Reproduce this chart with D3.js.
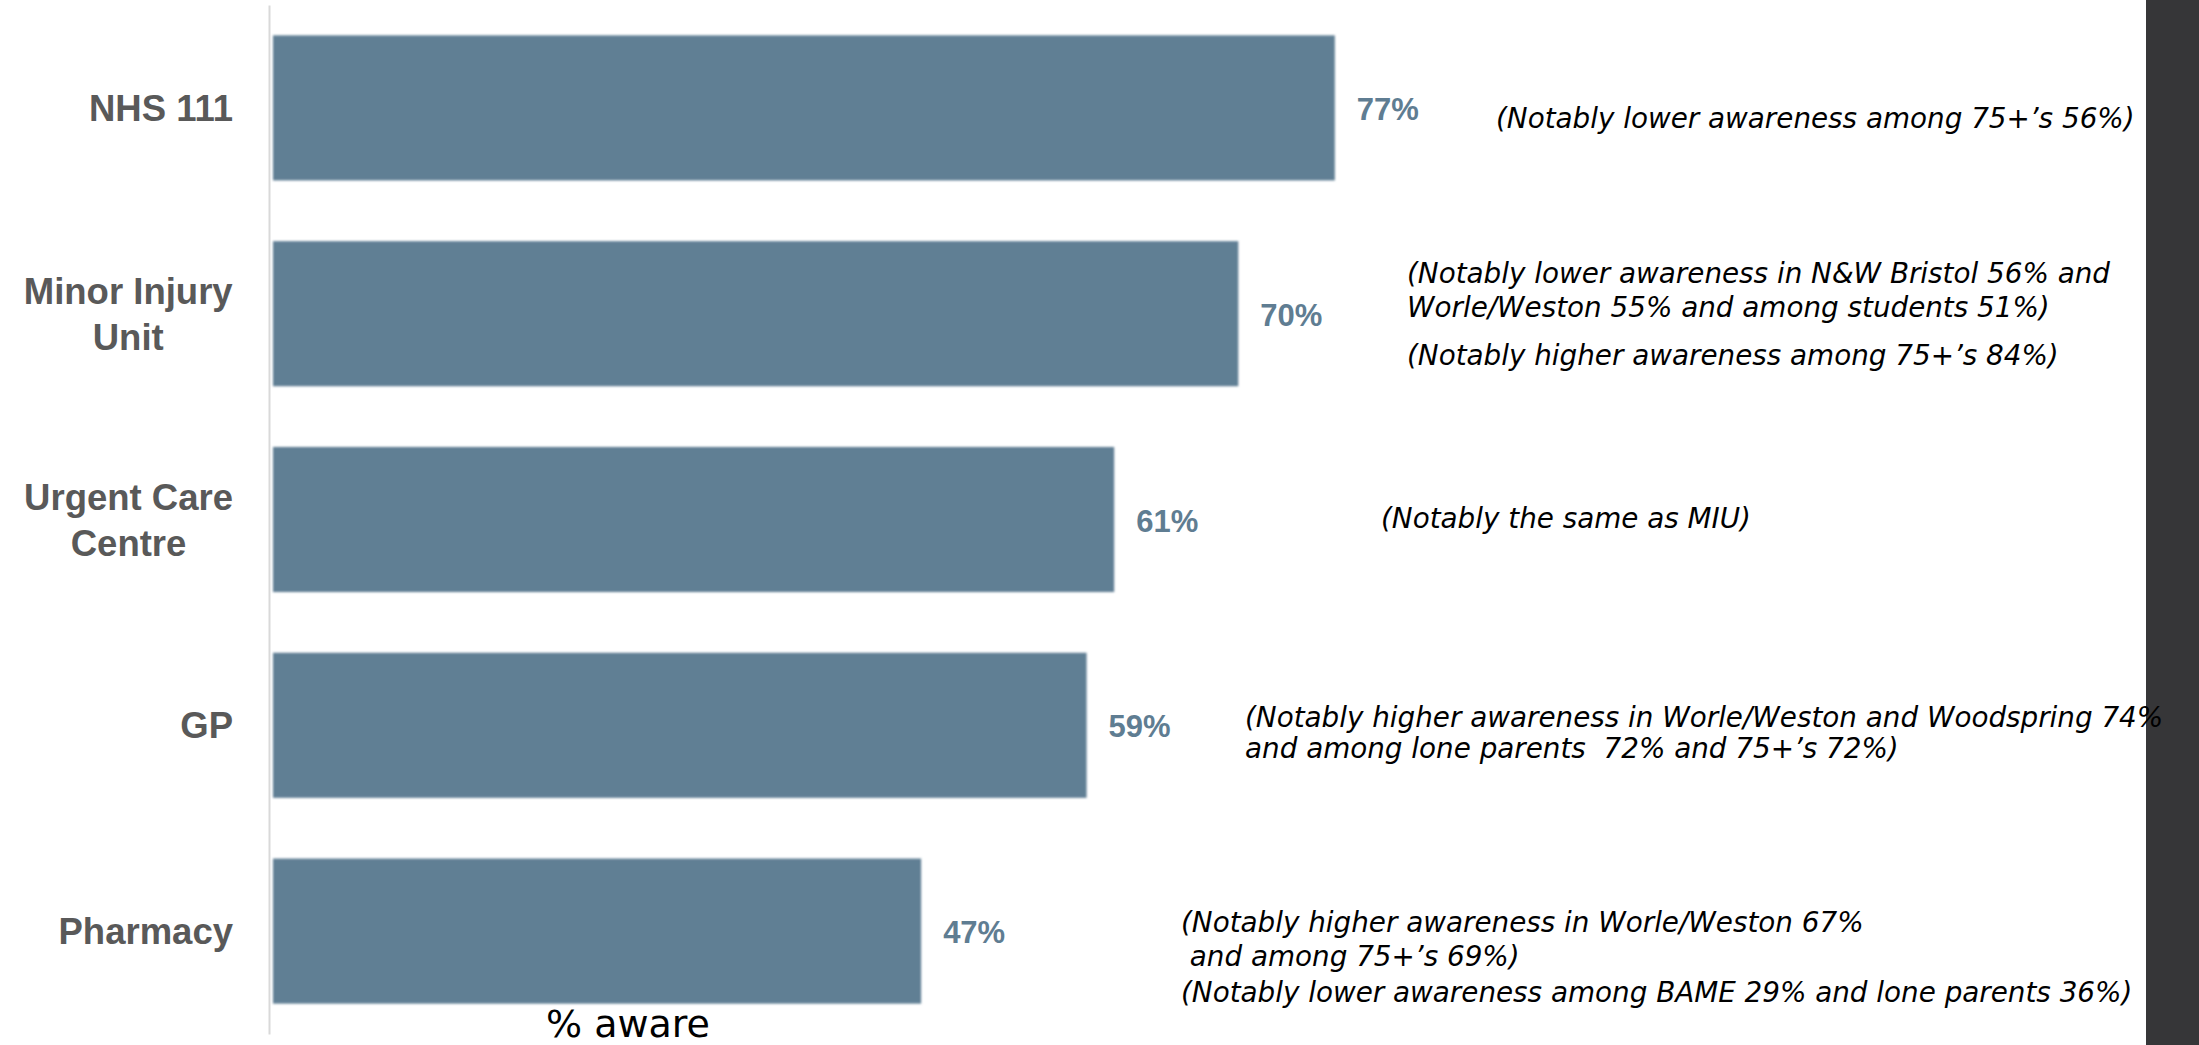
<!DOCTYPE html>
<html>
<head>
<meta charset="utf-8">
<script src="https://cdn.jsdelivr.net/npm/d3@7"></script>
<style>
  html, body { margin: 0; padding: 0; background: #ffffff; }
  svg { display: block; }
</style>
</head>
<body>
<div id="chart"></div>
<script>
// ---- data ----
const categories = ["NHS 111", "Minor Injury Unit", "Urgent Care Centre", "GP", "Pharmacy"];
const categoryLines = [["NHS 111"], ["Minor Injury", "Unit"], ["Urgent Care", "Centre"], ["GP"], ["Pharmacy"]];
const values = [77, 70, 61, 59, 47];
const notes = [
  ["(Notably lower awareness among 75+\u2019s 56%)"],
  ["(Notably lower awareness in N&W Bristol 56% and", "Worle/Weston 55% and among students 51%)", "(Notably higher awareness among 75+\u2019s 84%)"],
  ["(Notably the same as MIU)"],
  ["(Notably higher awareness in Worle/Weston and Woodspring 74%", "and among lone parents  72% and 75+\u2019s 72%)"],
  ["(Notably higher awareness in Worle/Weston 67%", " and among 75+\u2019s 69%)", "(Notably lower awareness among BAME 29% and lone parents 36%)"]
];
const axisTitle = "% aware";

// ---- layout ----
const W = 2199, H = 1045;
const noteLayout = [
  { x: 1496, ys: [128] },
  { x: 1407, ys: [283, 317, 365] },
  { x: 1381, ys: [528] },
  { x: 1245, ys: [727, 758] },
  { x: 1181, ys: [932, 966, 1002] }
];

const svg = d3.select("#chart").append("svg")
  .attr("width", W).attr("height", H)
  .attr("viewBox", `0 0 ${W} ${H}`);

svg.append("rect").attr("width", W).attr("height", H).attr("fill", "#ffffff");

const defs = svg.append("defs");
defs.append("filter").attr("id", "soft")
  .attr("x", "-2%").attr("y", "-5%").attr("width", "104%").attr("height", "110%")
  .append("feGaussianBlur").attr("stdDeviation", 0.9);

const x = d3.scaleLinear().domain([0, 100]).range([273, 273 + 1379]);
const y = d3.scaleBand().domain(categories).range([5, 1034])
  .paddingInner(0.295).paddingOuter(0.1475);

const data = categories.map((c, i) => ({ c, v: values[i], lines: categoryLines[i], notes: notes[i], lay: noteLayout[i] }));

// right dark sidebar
svg.append("rect").attr("x", 2146).attr("y", 0).attr("width", W - 2146).attr("height", H).attr("fill", "#363638");

// axis line
const yAxis = svg.append("g").attr("transform", "translate(269,0)")
  .call(d3.axisLeft(y).tickSize(0).tickFormat(""));
yAxis.select(".domain").attr("stroke", "#d9d9d9").attr("stroke-width", 2);

// bars
svg.append("g").selectAll("rect").data(data).join("rect")
  .attr("x", x(0))
  .attr("y", d => y(d.c))
  .attr("width", d => x(d.v) - x(0))
  .attr("height", y.bandwidth())
  .attr("fill", "#607f94")
  .attr("filter", "url(#soft)");

// value labels
svg.append("g").selectAll("text").data(data).join("text")
  .attr("x", d => x(d.v) + 22)
  .attr("y", d => y(d.c) + y.bandwidth() / 2 + 1)
  .attr("dy", "0.36em")
  .attr("font-family", "'Liberation Sans', Arial, sans-serif")
  .attr("font-weight", "bold")
  .attr("font-size", 31)
  .attr("fill", "#5f7d92")
  .text(d => d.v + "%");

// category labels
const catG = svg.append("g");
data.forEach(d => {
  const cy = y(d.c) + y.bandwidth() / 2;
  const n = d.lines.length;
  const t = catG.append("text")
    .attr("font-family", "'Liberation Sans', Arial, sans-serif")
    .attr("font-weight", "bold")
    .attr("font-size", 36.5)
    .attr("fill", "#595959");
  if (n === 1) {
    t.attr("text-anchor", "end").attr("x", 233).attr("y", cy).attr("dy", "0.36em").text(d.lines[0]);
  } else {
    t.attr("text-anchor", "middle");
    d.lines.forEach((ln, j) => {
      t.append("tspan").attr("x", 0).attr("y", cy + (j - (n - 1) / 2) * 46).attr("dy", "0.36em").text(ln);
    });
    const w = t.node().getBBox().width;
    t.selectAll("tspan").attr("x", 233 - w / 2);
  }
});

// annotations
const noteG = svg.append("g");
data.forEach(d => {
  d.notes.forEach((ln, j) => {
    noteG.append("text")
      .attr("x", d.lay.x)
      .attr("y", d.lay.ys[j])
      .attr("font-family", "'DejaVu Sans', sans-serif")
      .attr("font-style", "italic")
      .attr("font-size", 27.8)
      .attr("fill", "#000000")
      .attr("xml:space", "preserve")
      .style("white-space", "pre")
      .text(ln);
  });
});

// axis title
svg.append("text")
  .attr("x", 628).attr("y", 1037)
  .attr("text-anchor", "middle")
  .attr("font-family", "'DejaVu Sans', sans-serif")
  .attr("font-size", 38)
  .attr("fill", "#000000")
  .text(axisTitle);
</script>
</body>
</html>
